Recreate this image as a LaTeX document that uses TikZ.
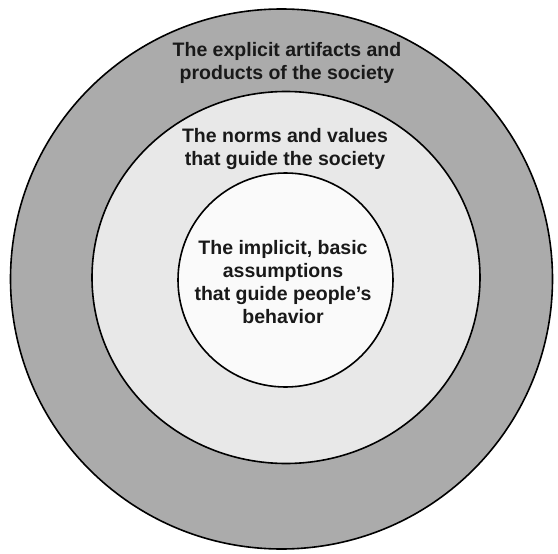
\documentclass[tikz,border=0pt]{standalone}
\usepackage{fontspec}
\setmainfont{Liberation Sans}
\begin{document}
\begin{tikzpicture}[x=1pt,y=-1pt,
  ring/.style={draw=black, line width=1.6pt},
  label/.style={font=\bfseries\fontsize{19.5}{23}\selectfont, align=center, text=black!90}]
\useasboundingbox[fill=white] (0,0) rectangle (558,554);
% outer layer: artifacts
\fill[ring, fill=black!33] (281.5,279) ellipse [x radius=271, y radius=270];
% middle layer: norms and values
\fill[ring, fill=black!9] (286,277.5) ellipse [x radius=194, y radius=186];
% core: basic assumptions
\fill[ring, fill=black!2] (285.5,280) ellipse [x radius=107.5, y radius=107];
\node[label] (outer) at (287,63) {The explicit artifacts and\\products of the society};
\node[label] (middle) at (285,149) {The norms and values\\that guide the society};
\node[label] (inner) at (283,282) {The implicit, basic\\assumptions\\that guide people's\\behavior};
\end{tikzpicture}
\end{document}
